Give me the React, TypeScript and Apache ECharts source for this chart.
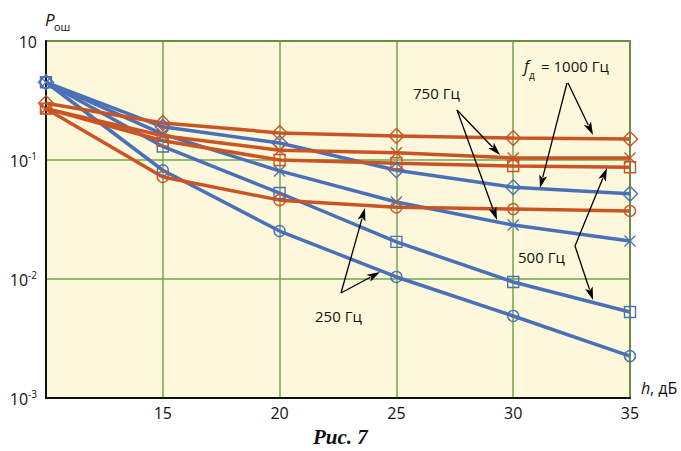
import React, { useEffect, useRef } from "react";
import * as echarts from "echarts";

const hValues = [10, 15, 20, 25, 30, 35];
const xTickLabels = ["", "15", "20", "25", "30", "35"];

const blue1000 = [0.45, 0.19, 0.139, 0.082, 0.059, 0.052];
const blue750 = [0.45, 0.165, 0.081, 0.0444, 0.0284, 0.0209];
const blue500 = [0.45, 0.13, 0.0528, 0.0205, 0.00944, 0.00528];
const blue250 = [0.45, 0.082, 0.0253, 0.0104, 0.00489, 0.00225];

const orange1000 = [0.3, 0.205, 0.169, 0.159, 0.153, 0.15];
const orange750 = [0.27, 0.16, 0.121, 0.115, 0.104, 0.104];
const orange500 = [0.27, 0.145, 0.1, 0.094, 0.089, 0.087];
const orange250 = [0.27, 0.072, 0.046, 0.04, 0.0387, 0.0373];

const BLUE = "#4a70b8";
const ORANGE = "#cb5424";
const GRID_GREEN = "#6fa64a";
const FONT = "'Open Sans', 'Noto Sans', sans-serif";

const CROSS = "path://M0,0L10,10M10,0L0,10";

function arrow(x1: number, y1: number, x2: number, y2: number) {
  const dx = x2 - x1;
  const dy = y2 - y1;
  const len = Math.sqrt(dx * dx + dy * dy);
  const ux = dx / len;
  const uy = dy / len;
  const hl = 13;
  const hw = 4;
  const bx = x2 - ux * hl;
  const by = y2 - uy * hl;
  return [
    {
      type: "line",
      shape: { x1, y1, x2: bx + ux * 2, y2: by + uy * 2 },
      style: { stroke: "#000", lineWidth: 1.3 },
      z: 100,
    },
    {
      type: "polygon",
      shape: {
        points: [
          [x2, y2],
          [bx - uy * hw, by + ux * hw],
          [bx + ux * 3, by + uy * 3],
          [bx + uy * hw, by - ux * hw],
        ],
      },
      style: { fill: "#000" },
      z: 100,
    },
  ];
}

function mk(name: string, values: number[], color: string, symbol: string, size: number) {
  return {
    name,
    type: "line",
    data: hValues.map((h, i) => [h, values[i]]),
    symbol,
    symbolSize: size,
    showAllSymbol: true,
    lineStyle: { color, width: 3.5 },
    itemStyle: { color: "rgba(0,0,0,0)", borderColor: color, borderWidth: 1.4 },
    emphasis: { disabled: true },
  };
}

export default function App() {
  const ref = useRef<HTMLDivElement>(null);
  useEffect(() => {
    if (!ref.current) return;
    const chart = echarts.init(ref.current, null, { renderer: "svg" });
    const textStyle = { fontFamily: FONT, fontSize: 15, fill: "#111" };
    chart.setOption({
      animation: false,
      backgroundColor: "#ffffff",
      grid: {
        left: 46,
        top: 41,
        right: 51,
        bottom: 53,
        show: true,
        backgroundColor: "#fdf8db",
        borderColor: "#111",
        borderWidth: 1.5,
      },
      xAxis: {
        type: "value",
        min: 10,
        max: 35,
        interval: 5,
        axisLine: { show: true, lineStyle: { color: "#111", width: 2 } },
        axisTick: { show: false },
        splitLine: { show: true, lineStyle: { color: GRID_GREEN, width: 1.5 } },
        axisLabel: {
          fontFamily: FONT,
          fontSize: 16,
          color: "#111",
          margin: 7,
          formatter: (v: number) => xTickLabels[hValues.indexOf(v)] ?? "",
        },
      },
      yAxis: {
        type: "log",
        logBase: 10,
        min: 0.001,
        max: 1,
        axisLine: { show: true, lineStyle: { color: "#111", width: 2 } },
        axisTick: { show: false },
        minorTick: { show: false },
        splitLine: { show: true, lineStyle: { color: GRID_GREEN, width: 1.5 } },
        axisLabel: {
          fontFamily: FONT,
          fontSize: 16,
          color: "#111",
          margin: 9,
          formatter: (v: number) => {
            const e = Math.round(Math.log10(v));
            if (e === 0) return "{b|10}";
            return `{b|10}{s|${e}}`;
          },
          rich: {
            b: { fontFamily: FONT, fontSize: 16, color: "#111", lineHeight: 18, verticalAlign: "bottom" },
            s: { fontFamily: FONT, fontSize: 10, color: "#111", lineHeight: 18, verticalAlign: "top", padding: [0, 0, 8, 0] },
          },
        },
      },
      series: [
        mk("b1000", blue1000, BLUE, "diamond", 15),
        mk("b750", blue750, BLUE, CROSS, 11),
        mk("b500", blue500, BLUE, "rect", 11),
        mk("b250", blue250, BLUE, "circle", 11),
        mk("o1000", orange1000, ORANGE, "diamond", 15),
        mk("o750", orange750, ORANGE, CROSS, 11),
        mk("o500", orange500, ORANGE, "rect", 11),
        mk("o250", orange250, ORANGE, "circle", 11),
      ],
      graphic: [
        { type: "text", left: 45, top: 11, style: { text: "P", font: `italic 17px ${FONT}`, fill: "#111" } },
        { type: "text", left: 54, top: 21, style: { text: "ош", font: `11px ${FONT}`, fill: "#111" } },
        { type: "text", left: 641, top: 380, style: { text: "h", font: `italic 16px ${FONT}`, fill: "#111" } },
        { type: "text", left: 650, top: 380, style: { text: ", дБ", font: `16px ${FONT}`, fill: "#111" } },
        { type: "text", left: 524, top: 58, style: { text: "f", font: `italic 16px ${FONT}`, fill: "#111" } },
        { type: "text", left: 529, top: 70, style: { text: "д", font: `10px ${FONT}`, fill: "#111" } },
        { type: "text", left: 541, top: 58, style: { ...textStyle, text: "= 1000 Гц" } },
        { type: "text", left: 413, top: 85, style: { ...textStyle, text: "750 Гц" } },
        { type: "text", left: 518, top: 249, style: { ...textStyle, text: "500 Гц" } },
        { type: "text", left: 315, top: 308, style: { ...textStyle, text: "250 Гц" } },
        {
          type: "text",
          left: 313,
          top: 426,
          style: { text: "Рис. 7", font: `italic bold 21px 'Liberation Serif', 'DejaVu Serif', serif`, fill: "#111" },
        },
        ...arrow(568, 83, 593, 135),
        ...arrow(567, 83, 540, 188),
        ...arrow(457, 110, 500, 155),
        ...arrow(457, 110, 497, 220),
        ...arrow(575, 246, 607, 168),
        ...arrow(575, 246, 593, 300),
        ...arrow(341, 293, 365, 208),
        ...arrow(341, 293, 380, 272),
      ],
    });
    return () => chart.dispose();
  }, []);
  return (
    <div
      ref={ref}
      style={{ position: "fixed", left: 0, top: 0, width: 681, height: 451 }}
    />
  );
}
